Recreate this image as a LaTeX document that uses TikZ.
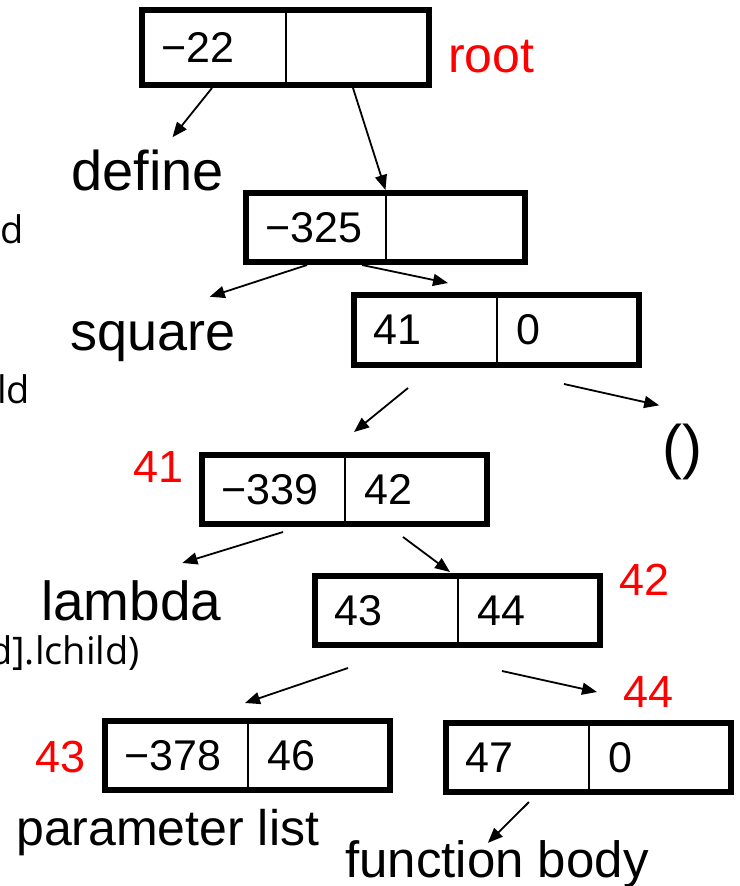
\documentclass[tikz,border=0pt]{standalone}
\usepackage{fontspec}
\setmainfont{Liberation Sans}
\newfontfamily\notefont{Open Sans}
\usetikzlibrary{arrows.meta}

\begin{document}
\begin{tikzpicture}[x=1pt,y=-1pt,
  cell/.style={draw, line width=6pt, minimum width=285pt, minimum height=70pt, inner sep=0pt},
  val/.style={anchor=west, inner sep=0pt, font=\fontsize{43}{50}\selectfont},
  lbl/.style={anchor=base west, inner sep=0pt, font=\fontsize{54}{62}\selectfont},
  addr/.style={anchor=base west, inner sep=0pt, text=red, font=\fontsize{45}{52}\selectfont},
  note/.style={anchor=base west, inner sep=0pt, font=\notefont\fontsize{38}{44}\selectfont},
  ptr/.style={-{Triangle[length=15pt,width=12pt]}, line width=1.8pt}]

\useasboundingbox (0,0) rectangle (739,886);

% Nodes of the tree (two cells each)
\node[cell, minimum width=287pt, minimum height=75pt] (root) at (285.5,47.5) {};
\node[cell, minimum width=279pt, minimum height=69pt] (c325) at (385.5,227.5) {};
\node[cell] (c41) at (496.5,330) {};
\node[cell, minimum height=69pt] (a41) at (344.5,489.5) {};
\node[cell, minimum height=69pt] (a42) at (457.5,610.5) {};
\node[cell, minimum height=69pt] (a43) at (247.5,755.5) {};
\node[cell, minimum height=69pt] (a44) at (588.5,757.5) {};

% Divider and left cell value
\foreach \n/\l in {root/−22, c325/−325, c41/41, a41/−339, a42/43, a43/−378, a44/47}{
  \draw[line width=2pt] (\n.north) -- (\n.south);
  \node[val] (\n-l) at ([xshift=22pt]\n.west) {\l};
}

% Right cell value
\foreach \n/\r in {c41/0, a41/42, a42/44, a43/46, a44/0}{
  \node[val] (\n-r) at ([xshift=20pt]\n.center) {\r};
}

% Atoms and names
\node[lbl, font=\fontsize{56}{64}\selectfont] (define) at (71,190) {define};
\node[lbl] (square) at (70,350) {square};
\node[lbl, font=\fontsize{60}{70}\selectfont] (nil) at (662,467) {()};
\node[lbl, font=\fontsize{55}{64}\selectfont] (lambda) at (41,620) {lambda};
\node[lbl, font=\fontsize{50}{60}\selectfont] (params) at (16,845) {parameter list};
\node[lbl, font=\fontsize{51}{60}\selectfont] (body) at (345,877) {function body};

% Addresses in red
\node[addr, font=\fontsize{50}{60}\selectfont] (rootname) at (448,72) {root};
\node[addr] (adr41) at (133,482) {41};
\node[addr] (adr42) at (619,595) {42};
\node[addr] (adr43) at (35,772) {43};
\node[addr] (adr44) at (623,707) {44};

% Notes running in from the left
\node[note] (noteA) at (0,243) {d};
\node[note] (noteB) at (-3,403) {ld};
\node[note] (noteC) at (-11,664) {d].lchild)};

% Pointers
\draw[ptr] ([shift={(-73.5,0)}]root.south) -- ([shift={(25,-12)}]define.north);
\draw[ptr] ([shift={(67.5,0)}]root.south) -- (c325.north);
\draw[ptr] ([shift={(-78.5,0)}]c325.south) -- ([shift={(57,-24)}]square.north);
\draw[ptr] ([shift={(-23.5,0)}]c325.south) -- ([shift={(-48.5,-9)}]c41.north);
\draw[ptr] ([shift={(-88.5,20)}]c41.south) -- ([shift={(9.5,-20)}]a41.north);
\draw[ptr] ([shift={(67.5,16)}]c41.south) -- ([shift={(-23,-18)}]nil.north);
\draw[ptr] ([shift={(-61.5,5)}]a41.south) -- ([shift={(51,-17)}]lambda.north);
\draw[ptr] ([shift={(58.5,10)}]a41.south) -- ([shift={(-7.5,-1)}]a42.north);
\draw[ptr] ([shift={(-109.5,20)}]a42.south) -- ([shift={(-2.5,-15)}]a43.north);
\draw[ptr] ([shift={(44.5,23)}]a42.south) -- ([shift={(8.5,-28)}]a44.north);
\draw[ptr] ([shift={(-59.5,7)}]a44.south) -- ([shift={(-9,3)}]body.north);

\end{tikzpicture}
\end{document}
